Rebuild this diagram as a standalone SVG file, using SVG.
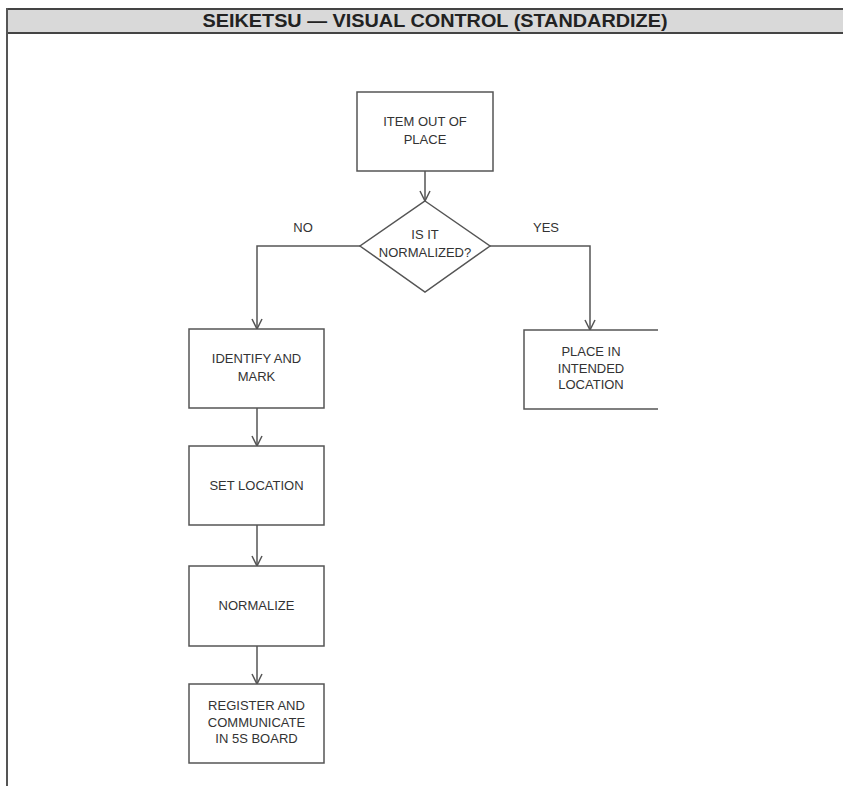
<svg xmlns="http://www.w3.org/2000/svg" width="843" height="786" viewBox="0 0 843 786">
<style>
.box{fill:#fff;stroke:#555;stroke-width:1.5}
.conn{fill:none;stroke:#555;stroke-width:1.5}
.t{font-family:"Liberation Sans",Arial,sans-serif;font-size:13px;fill:#333;text-anchor:middle}
.title{font-family:"Liberation Sans",Arial,sans-serif;font-size:18px;font-weight:bold;fill:#222;text-anchor:middle}
</style>
<defs>
<marker id="arr" viewBox="0 0 12 12" refX="11" refY="6" markerWidth="12" markerHeight="12" markerUnits="userSpaceOnUse" orient="auto">
<path d="M1,1 L11,6 L1,11" fill="none" stroke="#555" stroke-width="1.5"/>
</marker>
</defs>
<rect width="843" height="786" fill="#fff"/>
<g id="frame">
<rect x="7" y="9" width="836" height="24" fill="#d9d9d9"/>
<line x1="7" y1="9" x2="843" y2="9" stroke="#444" stroke-width="2"/>
<line x1="7" y1="33" x2="843" y2="33" stroke="#444" stroke-width="2"/>
<line x1="7" y1="8" x2="7" y2="786" stroke="#555" stroke-width="2"/>
<text class="title" x="435" y="27" textLength="465" lengthAdjust="spacingAndGlyphs">SEIKETSU — VISUAL CONTROL (STANDARDIZE)</text>
</g>
<g id="connectors">
<line class="conn" x1="425" y1="171" x2="425" y2="201" marker-end="url(#arr)"/>
<polyline class="conn" points="360,246 257,246 257,329" marker-end="url(#arr)"/>
<polyline class="conn" points="490,246 590,246 590,330" marker-end="url(#arr)"/>
<line class="conn" x1="257" y1="408" x2="257" y2="446" marker-end="url(#arr)"/>
<line class="conn" x1="257" y1="525" x2="257" y2="566" marker-end="url(#arr)"/>
<line class="conn" x1="257" y1="646" x2="257" y2="684" marker-end="url(#arr)"/>
<text class="t" x="303" y="232">NO</text>
<text class="t" x="546" y="232">YES</text>
</g>
<g id="item-out-of-place">
<rect class="box" x="357" y="92" width="136" height="79"/>
<text class="t" x="425" y="126">ITEM OUT OF</text>
<text class="t" x="425" y="144">PLACE</text>
</g>
<g id="is-it-normalized">
<polygon class="box" points="425,201 490,246 425,292 360,246"/>
<text class="t" x="425" y="239">IS IT</text>
<text class="t" x="425" y="257">NORMALIZED?</text>
</g>
<g id="identify-and-mark">
<rect class="box" x="189" y="329" width="135" height="79"/>
<text class="t" x="256.5" y="363">IDENTIFY AND</text>
<text class="t" x="256.5" y="381">MARK</text>
</g>
<g id="place-in-intended-location">
<rect x="524" y="330" width="134" height="79" fill="#fff"/>
<polyline class="conn" points="658,330 524,330 524,409 658,409"/>
<text class="t" x="591" y="356">PLACE IN</text>
<text class="t" x="591" y="373">INTENDED</text>
<text class="t" x="591" y="389">LOCATION</text>
</g>
<g id="set-location">
<rect class="box" x="189" y="446" width="135" height="79"/>
<text class="t" x="256.5" y="490">SET LOCATION</text>
</g>
<g id="normalize">
<rect class="box" x="189" y="566" width="135" height="80"/>
<text class="t" x="256.5" y="610">NORMALIZE</text>
</g>
<g id="register-and-communicate">
<rect class="box" x="189" y="684" width="135" height="79"/>
<text class="t" x="256.5" y="710">REGISTER AND</text>
<text class="t" x="256.5" y="727">COMMUNICATE</text>
<text class="t" x="256.5" y="743">IN 5S BOARD</text>
</g>
</svg>
